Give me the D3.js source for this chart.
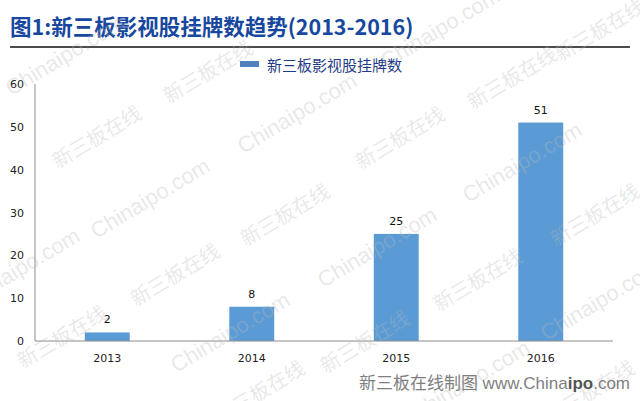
<!DOCTYPE html>
<html><head><meta charset="utf-8">
<script src="https://cdn.jsdelivr.net/npm/d3@7"></script>
<style>
html,body{margin:0;padding:0;background:#fff;}
svg{display:block;}
</style></head>
<body>
<svg id="chart" width="640" height="401"></svg>
<script>
const categories = ["2013", "2014", "2015", "2016"];
const values = [2, 8, 25, 51];
const yTicks = [0, 10, 20, 30, 40, 50, 60];
const seriesName = "新三板影视股挂牌数";
const titleText = "图1:新三板影视股挂牌数趋势(2013-2016)";

const wmCn = [[97,137],[208,72],[175,275],[62,337],[285,215],[400,138],[512,78],[600,30],[478,280],[595,215],[365,342],[260,392],[590,392]];
const wmEn = [[65,55],[297,113],[150,198],[20,268],[230,332],[440,28],[522,162],[377,247],[600,300],[470,380]];

const svg = d3.select("#chart");
const cjk = "'Noto Sans CJK SC','Noto Sans',sans-serif";

const x = d3.scaleBand().domain(categories).range([35, 613]).paddingInner(0.689).paddingOuter(0.3445);
const y = d3.scaleLinear().domain([0, 60]).range([341, 84]);

// title
svg.append("text").attr("x", 10).attr("y", 35)
  .attr("font-family", cjk).attr("font-weight", "bold").attr("font-size", 21.5)
  .attr("fill", "#17479e").text(titleText);
svg.append("line").attr("x1", 10).attr("x2", 630).attr("y1", 47).attr("y2", 47)
  .attr("stroke", "#111").attr("stroke-width", 1.3);

// legend
svg.append("rect").attr("x", 240).attr("y", 61).attr("width", 19).attr("height", 6).attr("fill", "#4f81bd");
svg.append("text").attr("x", 267).attr("y", 71).attr("font-family", cjk).attr("font-size", 15)
  .attr("fill", "#1f3c88").text(seriesName);

// bars
svg.selectAll("rect.bar").data(values).join("rect").attr("class", "bar")
  .attr("x", (d, i) => x(categories[i])).attr("width", x.bandwidth())
  .attr("y", d => y(d)).attr("height", d => y(0) - y(d)).attr("fill", "#5b9bd5");

// value labels
svg.selectAll("text.val").data(values).join("text").attr("class", "val")
  .attr("x", (d, i) => x(categories[i]) + x.bandwidth() / 2).attr("y", d => y(d) - 9)
  .attr("text-anchor", "middle").attr("font-family", "'DejaVu Sans',sans-serif").attr("font-size", 11)
  .attr("fill", "#111").text(d => d);

// y axis
const yAxis = d3.axisLeft(y).tickValues(yTicks).tickSize(0).tickPadding(11);
const gy = svg.append("g").attr("transform", "translate(35,0)").call(yAxis);
gy.select(".domain").attr("stroke", "#8c8c8c").attr("d", `M0,${y(60)}V${y(0)}`);
gy.selectAll("text").attr("font-family", "'DejaVu Sans',sans-serif").attr("font-size", 11).attr("fill", "#222");

// x axis
const xAxis = d3.axisBottom(x).tickSize(0).tickPadding(13);
const gx = svg.append("g").attr("transform", `translate(0,${y(0)})`).call(xAxis);
gx.select(".domain").attr("stroke", "#8c8c8c").attr("d", "M35,0H613");
gx.selectAll("text").attr("font-family", "'DejaVu Sans',sans-serif").attr("font-size", 11).attr("fill", "#222");

// watermarks
const wm = svg.append("g").attr("fill", "#b8b8b8").attr("fill-opacity", 0.33).attr("text-anchor", "middle");
wm.selectAll("text.cn").data(wmCn).join("text").attr("class", "cn")
  .attr("transform", d => `translate(${d[0]},${d[1]}) rotate(-31)`).attr("dy", "0.35em")
  .attr("font-family", cjk).attr("font-size", 20).text("新三板在线");
wm.selectAll("text.en").data(wmEn).join("text").attr("class", "en")
  .attr("transform", d => `translate(${d[0]},${d[1]}) rotate(-31)`).attr("dy", "0.35em")
  .attr("font-family", "'Liberation Sans',Arial,sans-serif").attr("font-size", 22).text("Chinaipo.com");

// footer
const ft = svg.append("text").attr("x", 630).attr("y", 389).attr("text-anchor", "end")
  .attr("font-family", "'Liberation Sans'," + cjk).attr("font-size", 17).attr("fill", "#7f7f7f");
ft.append("tspan").text("新三板在线制图 www.China");
ft.append("tspan").attr("font-weight", "bold").attr("fill", "#555").text("ipo");
ft.append("tspan").text(".com");
</script>
</body></html>
